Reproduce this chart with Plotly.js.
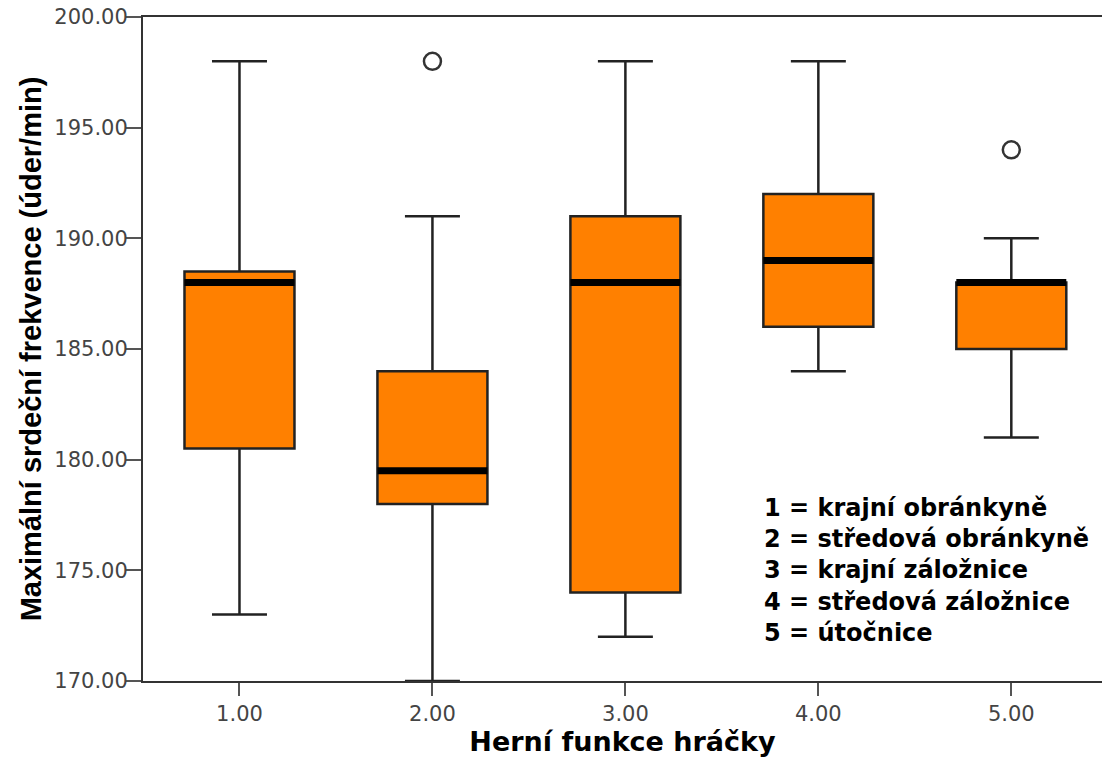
<!DOCTYPE html>
<html>
<head>
<meta charset="utf-8">
<script src="https://cdn.plot.ly/plotly-3.0.1.min.js"></script>
<style>html,body{margin:0;padding:0;background:#fff;}#chart{width:1102px;height:758px;}</style>
</head>
<body>
<div id="chart"></div>
<script>
// Data
var groups = [1, 2, 3, 4, 5];
var groupLabels = ['1.00', '2.00', '3.00', '4.00', '5.00'];
var lowerWhisker = [173, 170, 172, 184, 181];
var q1Values = [180.5, 178, 174, 186, 185];
var medianValues = [188, 179.5, 188, 189, 188];
var q3Values = [188.5, 184, 191, 192, 188];
var upperWhisker = [198, 191, 198, 198, 190];
var outlierGroups = [2, 5];
var outlierValues = [198, 194];
var yTicks = [170, 175, 180, 185, 190, 195, 200];
var legendLines = ['1 = krajní obránkyně', '2 = středová obránkyně', '3 = krajní záložnice', '4 = středová záložnice', '5 = útočnice'];

var boxWidth = 0.57;
var traces = [];
traces.push({
  type: 'box',
  x: groups,
  q1: q1Values,
  median: medianValues,
  q3: q3Values,
  lowerfence: lowerWhisker,
  upperfence: upperWhisker,
  width: boxWidth,
  whiskerwidth: 0.5,
  fillcolor: '#FF8000',
  line: {color: '#222', width: 2.5},
  boxpoints: false,
  hoverinfo: 'skip',
  showlegend: false
});
// Thick median lines
groups.forEach(function (g, i) {
  traces.push({
    type: 'scatter', mode: 'lines',
    x: [g - boxWidth / 2, g + boxWidth / 2],
    y: [medianValues[i], medianValues[i]],
    line: {color: '#000', width: 7},
    hoverinfo: 'skip', showlegend: false
  });
});
traces.push({
  type: 'scatter', mode: 'markers',
  x: outlierGroups, y: outlierValues,
  marker: {symbol: 'circle-open', size: 17, color: '#333', line: {width: 2.5, color: '#333'}},
  hoverinfo: 'skip', showlegend: false
});

var tickFont = {size: 21, color: '#444', family: 'DejaVu Sans, sans-serif'};
var layout = {
  width: 1102, height: 758,
  margin: {l: 143, r: 0, t: 17, b: 77},
  paper_bgcolor: '#fff', plot_bgcolor: '#fff',
  showlegend: false,
  font: {family: 'DejaVu Sans, sans-serif', color: '#000'},
  xaxis: {
    range: [0.5, 5.47],
    tickmode: 'array', tickvals: groups, ticktext: groupLabels,
    showgrid: false, zeroline: false,
    showline: true, linecolor: '#333', linewidth: 2, mirror: true,
    ticks: 'outside', ticklen: 13, tickwidth: 2, tickcolor: '#555',
    tickfont: tickFont,
    title: {text: 'Herní funkce hráčky', font: {size: 27, color: '#000', family: 'DejaVu Sans, sans-serif', weight: 'bold'}, standoff: 6}
  },
  yaxis: {
    range: [170, 200],
    tickmode: 'array', tickvals: yTicks, tickformat: '.2f',
    showgrid: false, zeroline: false,
    showline: true, linecolor: '#333', linewidth: 2,
    ticks: 'outside', ticklen: 15, tickwidth: 2, tickcolor: '#555',
    ticklabelstandoff: -6,
    tickfont: tickFont,
    title: {text: '<b>Maximální srdeční frekvence (úder/min)</b>', font: {size: 29, color: '#000', family: 'Arial, Liberation Sans, sans-serif'}, standoff: 4}
  },
  annotations: [{
    xref: 'paper', yref: 'paper', x: 0.645, y: 0.284, xanchor: 'left', yanchor: 'top',
    align: 'left', showarrow: false,
    text: legendLines.join('<br>'),
    font: {size: 24, color: '#000', family: 'DejaVu Sans, sans-serif', weight: 'bold'}
  }]
};

Plotly.newPlot('chart', traces, layout, {staticPlot: true, displayModeBar: false});
</script>
</body>
</html>
